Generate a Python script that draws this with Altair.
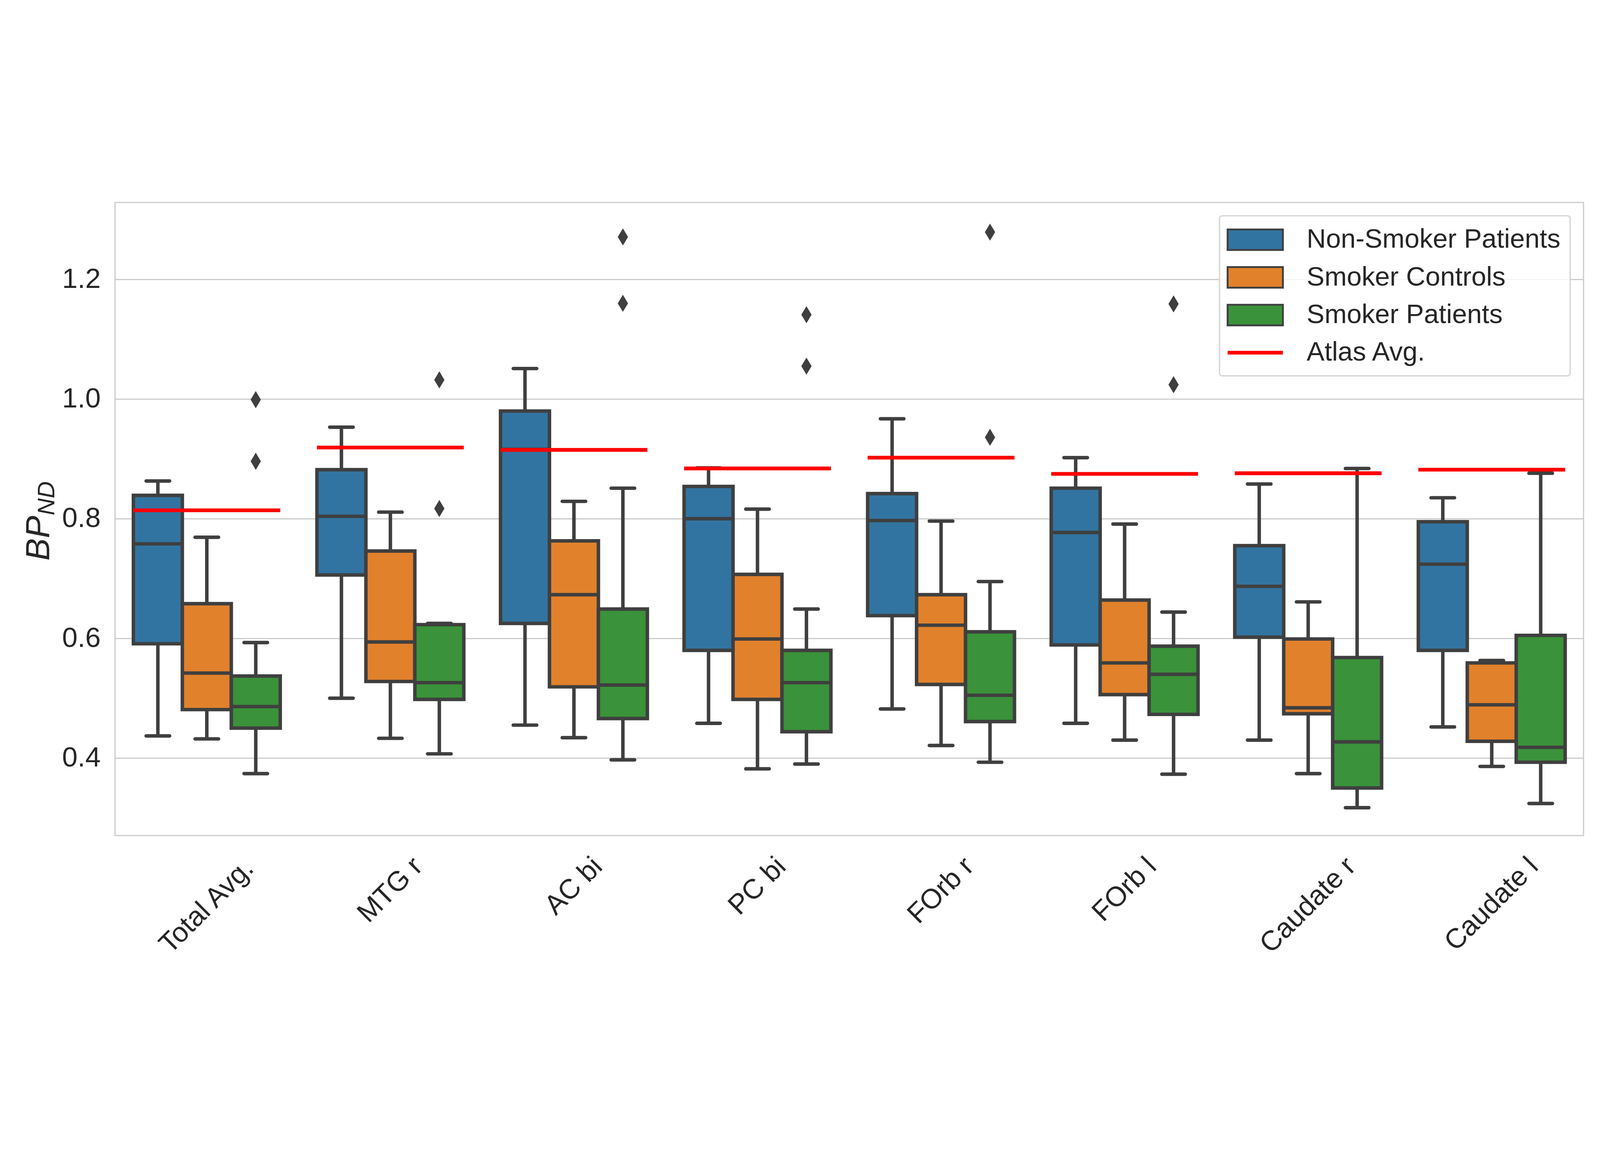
import altair as alt
import pandas as pd

# ---------------- data ----------------
regions = ["Total Avg.", "MTG r", "AC bi", "PC bi", "FOrb r", "FOrb l", "Caudate r", "Caudate l"]
groups = ["Non-Smoker Patients", "Smoker Controls", "Smoker Patients"]
atlas_label = "Atlas Avg."

nsp_lo = [0.437, 0.500, 0.455, 0.458, 0.482, 0.458, 0.430, 0.452]
nsp_q1 = [0.591, 0.706, 0.625, 0.580, 0.638, 0.589, 0.602, 0.580]
nsp_med = [0.758, 0.804, 0.916, 0.800, 0.797, 0.777, 0.687, 0.724]
nsp_q3 = [0.839, 0.882, 0.980, 0.854, 0.842, 0.851, 0.755, 0.795]
nsp_hi = [0.863, 0.953, 1.051, 0.885, 0.967, 0.902, 0.858, 0.835]

sc_lo = [0.432, 0.433, 0.434, 0.382, 0.421, 0.430, 0.374, 0.386]
sc_q1 = [0.481, 0.528, 0.519, 0.498, 0.523, 0.506, 0.474, 0.428]
sc_med = [0.542, 0.594, 0.673, 0.599, 0.622, 0.559, 0.484, 0.489]
sc_q3 = [0.658, 0.746, 0.763, 0.707, 0.673, 0.664, 0.599, 0.559]
sc_hi = [0.769, 0.811, 0.829, 0.816, 0.796, 0.791, 0.661, 0.563]

sp_lo = [0.374, 0.407, 0.397, 0.390, 0.393, 0.373, 0.317, 0.324]
sp_q1 = [0.450, 0.498, 0.466, 0.444, 0.461, 0.473, 0.350, 0.393]
sp_med = [0.486, 0.526, 0.522, 0.526, 0.505, 0.540, 0.427, 0.418]
sp_q3 = [0.537, 0.623, 0.649, 0.580, 0.611, 0.587, 0.568, 0.605]
sp_hi = [0.593, 0.625, 0.851, 0.649, 0.695, 0.644, 0.884, 0.876]

outlier_region = ["Total Avg.", "Total Avg.", "MTG r", "MTG r", "AC bi", "AC bi",
                  "PC bi", "PC bi", "FOrb r", "FOrb r", "FOrb l", "FOrb l"]
outlier_value = [0.999, 0.896, 1.032, 0.817, 1.271, 1.160, 1.141, 1.055, 1.279, 0.936, 1.159, 1.024]

atlas_avg = [0.814, 0.919, 0.915, 0.884, 0.902, 0.875, 0.876, 0.882]

# ---------------- tables ----------------
stats = {
    groups[0]: (nsp_lo, nsp_q1, nsp_med, nsp_q3, nsp_hi),
    groups[1]: (sc_lo, sc_q1, sc_med, sc_q3, sc_hi),
    groups[2]: (sp_lo, sp_q1, sp_med, sp_q3, sp_hi),
}
rows = []
for g in groups:
    lo, q1, med, q3, hi = stats[g]
    for i, r in enumerate(regions):
        rows.append(dict(region=r, group=g, lo=lo[i], q1=q1[i], med=med[i], q3=q3[i], hi=hi[i]))
box_df = pd.DataFrame(rows)
out_df = pd.DataFrame(dict(region=outlier_region, group=groups[2], value=outlier_value))
atlas_df = pd.DataFrame(dict(region=regions, value=atlas_avg))
legend_df = pd.DataFrame(dict(group=groups + [atlas_label]))

# ---------------- style ----------------
FONT = "Liberation Sans"
TXT = "#262626"
EDGE = "#3f3f3f"
W, H = 5498, 2370
STEP = W / 8.0
BOX = STEP * 0.8 / 3.0
LW = 13

all_groups = groups + [atlas_label]
fill_scale = alt.Scale(domain=all_groups, range=["#3274a1", "#e1812c", "#3a923a", "#ff0000"])
stroke_scale = alt.Scale(domain=all_groups, range=[EDGE, EDGE, EDGE, "#ff0000"])
patch = "M-2.07,-0.77L2.07,-0.77L2.07,0.77L-2.07,0.77Z"
line = "M-2,-0.07L2,-0.07L2,0.07L-2,0.07Z"
shape_scale = alt.Scale(domain=all_groups, range=[patch, patch, patch, line])

yscale = alt.Scale(domain=[0.2705, 1.3286], nice=False, zero=False)
yaxis = alt.Axis(values=[0.4, 0.6, 0.8, 1.0, 1.2], format=".1f", labelFontSize=104, labelFont=FONT,
                 labelColor=TXT, labelPadding=54, ticks=False, domain=False, grid=True,
                 gridColor="#cccccc", gridWidth=4.5, title=None)

leg = alt.Legend(title=None, orient="top-right", offset=50, rowPadding=35, symbolOffset=44.5,
                 labelOffset=139, labelFontSize=100, labelFont=FONT, labelColor=TXT, labelLimit=3000,
                 symbolSize=10000, symbolStrokeWidth=7, symbolOpacity=1)


def xenc():
    return alt.X("region:N", sort=regions,
                 scale=alt.Scale(type="band", domain=regions, paddingInner=0.2, paddingOuter=0.1),
                 axis=None)


def xoff():
    return alt.XOffset("group:N", sort=groups,
                       scale=alt.Scale(type="band", domain=groups, paddingInner=0, paddingOuter=0))


base = alt.Chart(box_df)

whisk_hi = base.mark_rule(color=EDGE, strokeWidth=LW).encode(
    x=xenc(), xOffset=xoff(), y=alt.Y("q3:Q", scale=yscale, axis=yaxis), y2="hi:Q")
whisk_lo = base.mark_rule(color=EDGE, strokeWidth=LW).encode(
    x=xenc(), xOffset=xoff(), y=alt.Y("lo:Q", scale=yscale), y2="q1:Q")
cap_hi = base.mark_tick(color=EDGE, thickness=LW, size=BOX * 0.55, cornerRadius=6.5, opacity=1).encode(
    x=xenc(), xOffset=xoff(), y=alt.Y("hi:Q", scale=yscale))
cap_lo = base.mark_tick(color=EDGE, thickness=LW, size=BOX * 0.55, cornerRadius=6.5, opacity=1).encode(
    x=xenc(), xOffset=xoff(), y=alt.Y("lo:Q", scale=yscale))
boxes = base.mark_bar(stroke=EDGE, strokeWidth=LW, opacity=1).encode(
    x=xenc(), xOffset=xoff(), y=alt.Y("q1:Q", scale=yscale), y2="q3:Q",
    fill=alt.Fill("group:N", scale=fill_scale, legend=leg))
medians = base.mark_tick(color=EDGE, thickness=LW, size=BOX, opacity=1).encode(
    x=xenc(), xOffset=xoff(), y=alt.Y("med:Q", scale=yscale))
outliers = alt.Chart(out_df).mark_point(
    shape="M0,-1L0.6,0L0,1L-0.6,0Z", size=4096, filled=True, color=EDGE, opacity=1, strokeWidth=0).encode(
    x=xenc(), xOffset=xoff(), y=alt.Y("value:Q", scale=yscale))
atlas = alt.Chart(atlas_df).mark_tick(color="#ff0000", thickness=14, size=STEP * 0.8, opacity=1).encode(
    x=xenc(), y=alt.Y("value:Q", scale=yscale))

# invisible marks that give the shared legend its shapes and outline colours
legend_layer = alt.Chart(legend_df).mark_point(filled=True, opacity=0).encode(
    x=alt.value(0), y=alt.value(0),
    fill=alt.Fill("group:N", scale=fill_scale, legend=leg),
    stroke=alt.Stroke("group:N", scale=stroke_scale, legend=leg),
    shape=alt.Shape("group:N", scale=shape_scale, legend=leg))

t_bp = alt.Chart(pd.DataFrame(dict(t=["BP"]))).mark_text(
    angle=270, align="left", baseline="alphabetic", fontSize=126, fontStyle="italic", font=FONT, color=TXT
).encode(x=alt.value(-247), y=alt.value(1341), text="t:N")
t_nd = alt.Chart(pd.DataFrame(dict(t=["ND"]))).mark_text(
    angle=270, align="left", baseline="alphabetic", fontSize=88, fontStyle="italic", font=FONT, color=TXT
).encode(x=alt.value(-227), y=alt.value(1171), text="t:N")

CW = {' ': 278, '.': 278, 'A': 667, 'C': 722, 'F': 611, 'G': 778, 'M': 833, 'O': 778, 'P': 667,
      'T': 611, 'a': 556, 'b': 556, 'd': 556, 'e': 556, 'g': 556, 'i': 222, 'l': 222, 'o': 556,
      'r': 333, 't': 278, 'u': 556, 'v': 500}
label_layers = []
for r in regions:
    L = sum(CW.get(c, 556) for c in r) / 1000.0 * 104
    yc = H + 65 + (L + 100) * 0.3536
    label_layers.append(
        alt.Chart(pd.DataFrame(dict(region=[r]))).mark_text(
            angle=315, align="center", baseline="middle", fontSize=104, font=FONT, color=TXT
        ).encode(x=xenc(), y=alt.value(yc), text="region:N"))

chart = alt.layer(
    whisk_hi, whisk_lo, cap_hi, cap_lo, boxes, medians, outliers, atlas, legend_layer, t_bp, t_nd,
    *label_layers
).properties(
    width=W, height=H,
    padding={"left": 419, "top": 67, "right": 50, "bottom": 500},
    autosize=alt.AutoSizeParams(type="none"),
    background="white",
).configure_view(
    stroke="#cccccc", strokeWidth=4.5
).configure_legend(
    padding=36, strokeColor="#d6d6d6", strokeWidth=5, fillColor="rgba(255,255,255,0.8)", cornerRadius=10
)

chart.save("out.html", embed_options={"renderer": "svg", "actions": False})
